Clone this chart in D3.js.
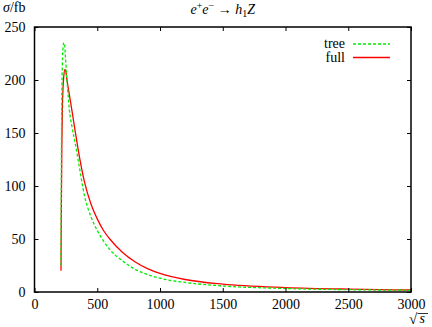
<!DOCTYPE html>
<html><head><meta charset="utf-8">
<script src="https://cdn.jsdelivr.net/npm/d3@7"></script>
<style>body{margin:0;background:#fff}svg{display:block}</style>
</head><body><svg id="c" width="432" height="327" font-family="Liberation Serif"></svg>
<script>
const sqrtS_tree = [211,214,218,222,227,233,238,245,255,265,277,300,325,350,400,450,500,550,600,700,800,900,1000,1200,1500,2000,2500,3000];
const sigma_tree = [25,120,185,215,230,235,235,225,205,190,173,155,140,123,90,71,58,48,40,29.5,21.5,16.5,13,9,5.7,3.3,2.2,1.6];
const sqrtS_full = [211,214,218,222,227,233,243,250,260,275,300,325,350,400,450,500,550,600,700,800,900,1000,1200,1500,2000,2500,3000];
const sigma_full = [20,80,140,172,192,203,210,208,199,188,170,151,133,103,83,69,58,50,37.5,28.5,22,17.5,11.8,7.4,4.2,2.7,1.9];
const xTicks = [0,500,1000,1500,2000,2500,3000];
const yTicks = [0,50,100,150,200,250];
const legendLabels = ["tree","full"];

const FF = "Liberation Serif";
const svg = d3.select("#c");
const L=34.5, R=411, T=27, B=292;
const x = d3.scaleLinear().domain([0,3000]).range([L,R]);
const y = d3.scaleLinear().domain([0,250]).range([B,T]);

const line = d3.line().x(d=>x(d[0])).y(d=>y(d[1])).curve(d3.curveMonotoneX);
svg.append("clipPath").attr("id","cp").append("rect").attr("x",L).attr("y",T).attr("width",R-L).attr("height",B-T);

const treeData = sqrtS_tree.map((v,i)=>[v,sigma_tree[i]]);
const fullData = sqrtS_full.map((v,i)=>[v,sigma_full[i]]);

const g = svg.append("g").attr("clip-path","url(#cp)");
g.append("path").datum(fullData).attr("d",line).attr("fill","none").attr("stroke","#ff0000").attr("stroke-width",1.3);
g.append("path").datum(treeData).attr("d",line).attr("fill","none").attr("stroke","#00ee00").attr("stroke-width",1.3).attr("stroke-dasharray","3,2");

const fs = 14;
const axB = svg.append("g").attr("transform",`translate(0,${B})`).call(d3.axisBottom(x).tickValues(xTicks).tickSize(-4).tickPadding(6).tickFormat(d3.format("d")));
const axT = svg.append("g").attr("transform",`translate(0,${T})`).call(d3.axisTop(x).tickValues(xTicks).tickSize(-4).tickFormat(""));
const axL = svg.append("g").attr("transform",`translate(${L},0)`).call(d3.axisLeft(y).tickValues(yTicks).tickSize(-4).tickPadding(9).tickFormat(d3.format("d")));
const axR = svg.append("g").attr("transform",`translate(${R},0)`).call(d3.axisRight(y).tickValues(yTicks).tickSize(-4).tickFormat(""));
[axB,axT,axL,axR].forEach(a=>{
  a.attr("font-family",FF);
  a.select(".domain").remove();
  a.selectAll("line").attr("stroke","#000").attr("stroke-width",1);
  a.selectAll("text").attr("font-family",FF).attr("font-size",fs).attr("fill","#000");
});
axB.selectAll("text").attr("dy","0.8em");
axL.selectAll("text").attr("dy","0.3em");
svg.append("rect").attr("x",L).attr("y",T).attr("width",R-L).attr("height",B-T).attr("fill","none").attr("stroke","#000").attr("stroke-width",1.5);

const title = svg.append("text").attr("x",(L+R)/2).attr("y",14).attr("text-anchor","middle").attr("font-size",14).attr("font-family",FF);
title.append("tspan").attr("font-style","italic").text("e");
title.append("tspan").attr("font-size",10).attr("dy",-5).text("+");
title.append("tspan").attr("font-style","italic").attr("dy",5).text("e");
title.append("tspan").attr("font-size",10).attr("dy",-5).text("−");
title.append("tspan").attr("dy",5).text(" → ");
title.append("tspan").attr("font-style","italic").text("h");
title.append("tspan").attr("font-size",10).attr("dy",3).text("1");
title.append("tspan").attr("font-style","italic").attr("dy",-3).text("Z");

const yl = svg.append("text").attr("x",3).attr("y",12).attr("font-size",14).attr("font-family",FF);
yl.append("tspan").attr("font-style","italic").text("σ");
yl.append("tspan").text("/fb");

svg.append("text").attr("x",409).attr("y",324).attr("font-size",15).attr("font-family",FF).text("√");
svg.append("text").attr("x",419.5).attr("y",323).attr("font-size",14).attr("font-style","italic").attr("font-family",FF).text("s");
svg.append("line").attr("x1",417.5).attr("x2",428).attr("y1",313.5).attr("y2",313.5).attr("stroke","#000").attr("stroke-width",0.8);

const leg = [{c:"#00ee00",d:"3,2"},{c:"#ff0000",d:null}];
legendLabels.forEach((lab,i)=>{
  const yy = 44 + i*13.5;
  svg.append("text").attr("x",345).attr("y",yy+4).attr("text-anchor","end").attr("font-size",fs).attr("font-family",FF).text(lab);
  const ln = svg.append("line").attr("x1",353).attr("x2",390).attr("y1",yy).attr("y2",yy).attr("stroke",leg[i].c).attr("stroke-width",1.3);
  if(leg[i].d) ln.attr("stroke-dasharray",leg[i].d);
});
</script></body></html>
